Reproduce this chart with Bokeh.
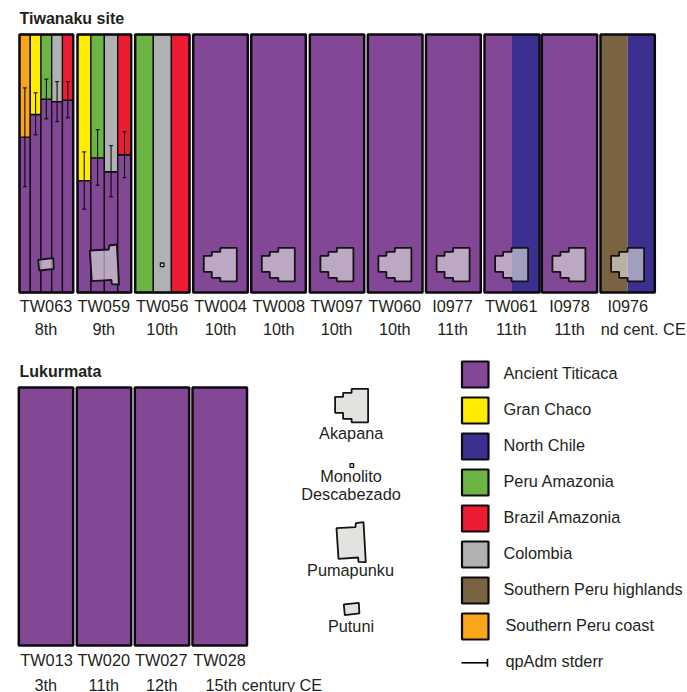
from bokeh.embed import file_html
from bokeh.resources import INLINE
from bokeh.plotting import figure
from bokeh.models import Range1d, ColumnDataSource
from bokeh.core.properties import value

# ---- legend / palette
sources = ["Ancient Titicaca", "Gran Chaco", "North Chile", "Peru Amazonia", "Brazil Amazonia",
           "Colombia", "Southern Peru highlands", "Southern Peru coast"]
colors = ["#824795", "#FFEC00", "#3B2F8F", "#6CB545", "#ED1C33", "#B0B1B3", "#7A6340", "#FAA61A"]

# ---- Tiwanaku site: Ancient Titicaca share per qpAdm model, second source, stderr interval
tw063_second = ["Southern Peru coast", "Gran Chaco", "Peru Amazonia", "Colombia", "Brazil Amazonia"]
tw063_share = [0.602, 0.690, 0.749, 0.740, 0.746]
tw063_low = [0.410, 0.611, 0.673, 0.662, 0.677]
tw063_high = [0.793, 0.774, 0.827, 0.817, 0.817]

tw059_second = ["Gran Chaco", "Peru Amazonia", "Colombia", "Brazil Amazonia"]
tw059_share = [0.434, 0.522, 0.468, 0.534]
tw059_low = [0.323, 0.416, 0.371, 0.445]
tw059_high = [0.545, 0.631, 0.569, 0.623]

tw056_second = ["Peru Amazonia", "Colombia", "Brazil Amazonia"]
tw056_share = [0.0, 0.0, 0.0]

tw061_first = ["Ancient Titicaca", "North Chile"]
i0976_first = ["Southern Peru highlands", "North Chile"]

tiwanaku_ids = ["TW063", "TW059", "TW056", "TW004", "TW008", "TW097", "TW060", "I0977", "TW061", "I0978", "I0976"]
tiwanaku_ages = ["8th", "9th", "10th", "10th", "10th", "10th", "10th", "11th", "11th", "11th", "nd cent. CE"]
lukurmata_ids = ["TW013", "TW020", "TW027", "TW028"]
lukurmata_ages = ["3th", "11th", "12th", "15th century CE"]

# ---- layout
FONT = value("Liberation Sans")
INK = "#231F20"
EDGE = "#0C0A0E"

p = figure(width=687, height=692, output_backend="svg", toolbar_location=None,
           x_range=Range1d(0, 687), y_range=Range1d(692, 0), min_border=0,
           outline_line_color=None, background_fill_color="white")
p.axis.visible = False
p.grid.visible = False
p.min_border_left = p.min_border_right = p.min_border_top = p.min_border_bottom = 0


def share_range(y0, y1):
    # share 0 sits at page row y0, share 1 at page row y1
    h = y0 - y1
    return Range1d((y0 - 692) / h, y0 / h)


p.extra_y_ranges = {"tiw": share_range(292, 34), "luk": share_range(645, 387)}

tiw_panels = [(19, 72.7), (77, 130.7), (134.7, 189), (192.7, 247.3), (250.7, 305.3), (309.3, 363.7),
              (367.3, 422), (425.5, 480.3), (484, 539), (541.3, 596.7), (600, 654.3)]
luk_panels = [(18.3, 72.7), (76.3, 130.7), (134.3, 188.7), (192, 246.5)]


def column_source(rows):
    return ColumnDataSource(dict(left=[r[0] for r in rows], right=[r[1] for r in rows],
                                 bottom=[r[2] for r in rows], top=[r[3] for r in rows],
                                 color=[r[4] for r in rows]))


def draw_stacked(panel, second, share, low=None, high=None, range_name="tiw"):
    x0, x1 = panel
    n = len(second)
    w = (x1 - x0) / n
    rows = []
    for i in range(n):
        a, b = x0 + i * w, x0 + (i + 1) * w
        if share[i] > 0:
            rows.append((a, b, 0, share[i], colors[0]))
        rows.append((a, b, share[i], 1, colors[sources.index(second[i])]))
    p.quad(left="left", right="right", bottom="bottom", top="top", fill_color="color",
           line_color=EDGE, line_width=1.3, source=column_source(rows), y_range_name=range_name)
    if low is not None:
        centers = [x0 + (i + 0.5) * w for i in range(n)]
        p.segment(centers, low, centers, high, line_color="black", line_width=1, y_range_name=range_name)
        for c, lo, hi in zip(centers, low, high):
            p.segment([c - 2, c - 2], [lo, hi], [c + 2, c + 2], [lo, hi], line_color="black",
                      line_width=1, y_range_name=range_name)


def draw_side(panel, first, range_name="tiw"):
    x0, x1 = panel
    n = len(first)
    w = (x1 - x0) / n
    rows = [(x0 + i * w, x0 + (i + 1) * w, 0, 1, colors[sources.index(first[i])]) for i in range(n)]
    p.quad(left="left", right="right", bottom="bottom", top="top", fill_color="color",
           line_color=None, source=column_source(rows), y_range_name=range_name)


def outline(panel, range_name):
    p.quad(left=[panel[0]], right=[panel[1]], bottom=[0], top=[1], fill_color=None,
           line_color=EDGE, line_width=2.5, y_range_name=range_name)


draw_stacked(tiw_panels[0], tw063_second, tw063_share, tw063_low, tw063_high)
draw_stacked(tiw_panels[1], tw059_second, tw059_share, tw059_low, tw059_high)
draw_stacked(tiw_panels[2], tw056_second, tw056_share)
for k in [3, 4, 5, 6, 7, 9]:
    draw_side(tiw_panels[k], ["Ancient Titicaca"])
draw_side(tiw_panels[8], tw061_first)
draw_side(tiw_panels[10], i0976_first)
for k in range(4):
    draw_side(luk_panels[k], ["Ancient Titicaca"], "luk")
for pn in tiw_panels:
    outline(pn, "tiw")
for pn in luk_panels:
    outline(pn, "luk")

# ---- monument footprints (outline drawings, local units, origin at top-left)
akapana_x = [33, 16.5, 16.5, 8, 8, 0, 0, 8, 8, 16.5, 16.5, 33]
akapana_y = [0, 0, 4, 4, 8, 8, 24, 24, 30, 30, 33.5, 33.5]
pumapunku_x = [0, 19, 19.3, 27, 29.3, 22, 21.7, 2]
pumapunku_y = [6, 5, 1, 0, 40, 39.7, 35.3, 36.7]
putuni_x = [0, 15, 15.6, 1]
putuni_y = [1.6, 0, 10.6, 12.3]
monolito_x = [0, 3.6, 3.6, 0]
monolito_y = [0, 0, 3.6, 3.6]


def footprint(xs, ys, ox, oy, fill, alpha, lw=1.8):
    p.patch([ox + v for v in xs], [oy + v for v in ys], fill_color=fill, fill_alpha=alpha,
            line_color="#141216", line_width=lw)


GREY = "#E1E3DF"
for k in [3, 4, 5, 6, 7, 8, 9, 10]:
    footprint(akapana_x, akapana_y, tiw_panels[k][0] + 10.6, 247.3, GREY, 0.62)
footprint(pumapunku_x, pumapunku_y, 89.3, 244, GREY, 0.62)
footprint(putuni_x, putuni_y, 37.7, 257.7, GREY, 0.62)
footprint(monolito_x, monolito_y, 159.9, 262.5, GREY, 0.62, 1.3)
footprint(akapana_x, akapana_y, 334.6, 388.3, GREY, 1)
footprint(pumapunku_x, pumapunku_y, 336, 521.7, GREY, 1)
footprint(putuni_x, putuni_y, 343.3, 602.3, GREY, 1)
footprint(monolito_x, monolito_y, 349.5, 463.2, GREY, 1, 1.3)


def label(x, y, s, align="center", size="16.3px", style="normal"):
    p.text([x], [y - 1], text=[s], text_font=FONT, text_font_size=size, text_color=INK,
           text_align=align, text_baseline="middle", text_font_style=style)


label(19, 18.5, "Tiwanaku site", "left", "16px", "bold")
label(19, 371.5, "Lukurmata", "left", "16px", "bold")

tiw_label_x = [45.5, 103.3, 161.7, 220, 278.3, 336, 394.3, 452, 510.7, 569, 627.3]
tiw_age_x = [45.5, 103.3, 161.7, 220, 278.3, 336, 394.3, 452, 510.7, 569, 642.7]
for x, ax, s, a in zip(tiw_label_x, tiw_age_x, tiwanaku_ids, tiwanaku_ages):
    label(x, 306.3, s)
    label(ax, 329.3, a)

luk_label_x = [46, 103.3, 160.7, 219]
luk_age_x = [45.3, 103.3, 161.3, 263.3]
for x, ax, s, a in zip(luk_label_x, luk_age_x, lukurmata_ids, lukurmata_ages):
    label(x, 660.5, s)
    label(ax, 685, a)

label(350.7, 433, "Akapana")
label(350.5, 476.7, "Monolito")
label(350.5, 494, "Descabezado")
label(350, 570.7, "Pumapunku")
label(350.5, 626.7, "Putuni")

# ---- legend
for i, (s, c) in enumerate(zip(sources, colors)):
    top = 361 + 36 * i
    p.quad(left=[461.5], right=[488], top=[top], bottom=[top + 26], fill_color=c,
           line_color=EDGE, line_width=2.2)
    label(505 if s == "Southern Peru coast" else 503, top + 12, s, "left")

p.line([461, 487], [662.3, 662.3], line_color="black", line_width=1.6)
p.line([487, 487], [658.3, 666.3], line_color="black", line_width=1.6)
label(505, 661.5, "qpAdm stderr", "left")

open("out.html", "w").write(file_html(p, INLINE))
